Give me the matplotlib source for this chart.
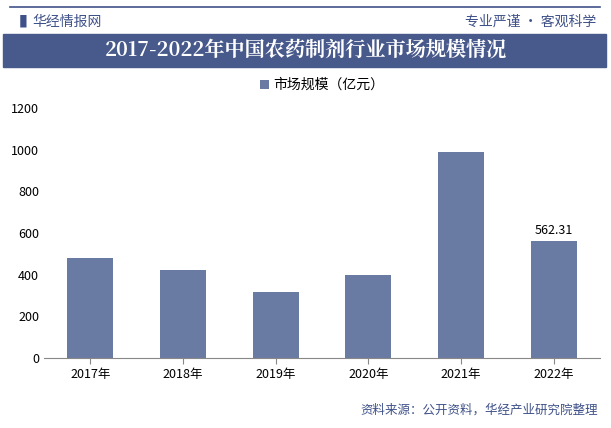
import matplotlib
matplotlib.use("Agg")
import matplotlib.pyplot as plt
from matplotlib.patches import Rectangle

plt.rcParams['font.family'] = ['Noto Sans CJK SC', 'DejaVu Sans']

years = ["2017年", "2018年", "2019年", "2020年", "2021年", "2022年"]
values = [480, 421, 316, 398, 990, 562.31]
yticks = [0, 200, 400, 600, 800, 1000, 1200]
bar_color = "#6a7ba3"

W, H = 611, 428
fig = plt.figure(figsize=(W/100, H/100), dpi=100)

def fx(x): return x / W
def fy(y): return 1 - y / H

fig.add_artist(plt.Line2D([fx(10), fx(600)], [fy(7), fy(7)], color="#3f5189", lw=1.2))
fig.text(fx(14), fy(22), "▐", color="#3f5189", fontsize=9, va="center")
fig.text(fx(32), fy(22), "华经情报网", color="#3f5189", fontsize=10, va="center")
fig.text(fx(596), fy(22), "专业严谨 • 客观科学", color="#3f5189", fontsize=10, va="center", ha="right")
fig.add_artist(Rectangle((fx(3), fy(67)), fx(603), 33/H, color="#485a8c", transform=fig.transFigure))
fig.text(0.5, fy(51), "2017-2022年中国农药制剂行业市场规模情况", color="white",
         fontsize=14.5, fontweight="bold", ha="center", va="center",
         family=['Noto Serif CJK SC', 'Noto Sans CJK SC', 'DejaVu Sans'])

ax = fig.add_axes([fx(44), fy(358), fx(600-44), (358-108)/H])
x = range(len(years))
ax.bar(x, values, width=0.5, color=bar_color, label="市场规模（亿元）")
ax.set_ylim(0, 1200)
ax.set_xlim(-0.5, len(years) - 0.5)
ax.set_yticks(yticks)
ax.set_xticks(list(x))
ax.set_xticklabels(years)
ax.tick_params(axis="both", labelsize=9, length=0)
ax.tick_params(axis="x", length=4, color="#888888")
for s in ["top", "right", "left"]:
    ax.spines[s].set_visible(False)
ax.spines["bottom"].set_color("#888888")
ax.text(5, values[5] + 20, "562.31", ha="center", va="bottom", fontsize=9)
ax.legend(loc="upper center", bbox_to_anchor=(0.5, 1.17), frameon=False, fontsize=10,
          handlelength=0.6, handleheight=0.6, handletextpad=0.3)

fig.text(fx(598), fy(410), "资料来源：公开资料，华经产业研究院整理", color="#3f5189",
         fontsize=9, ha="right", va="center")

fig.savefig("out.png", dpi=100)
